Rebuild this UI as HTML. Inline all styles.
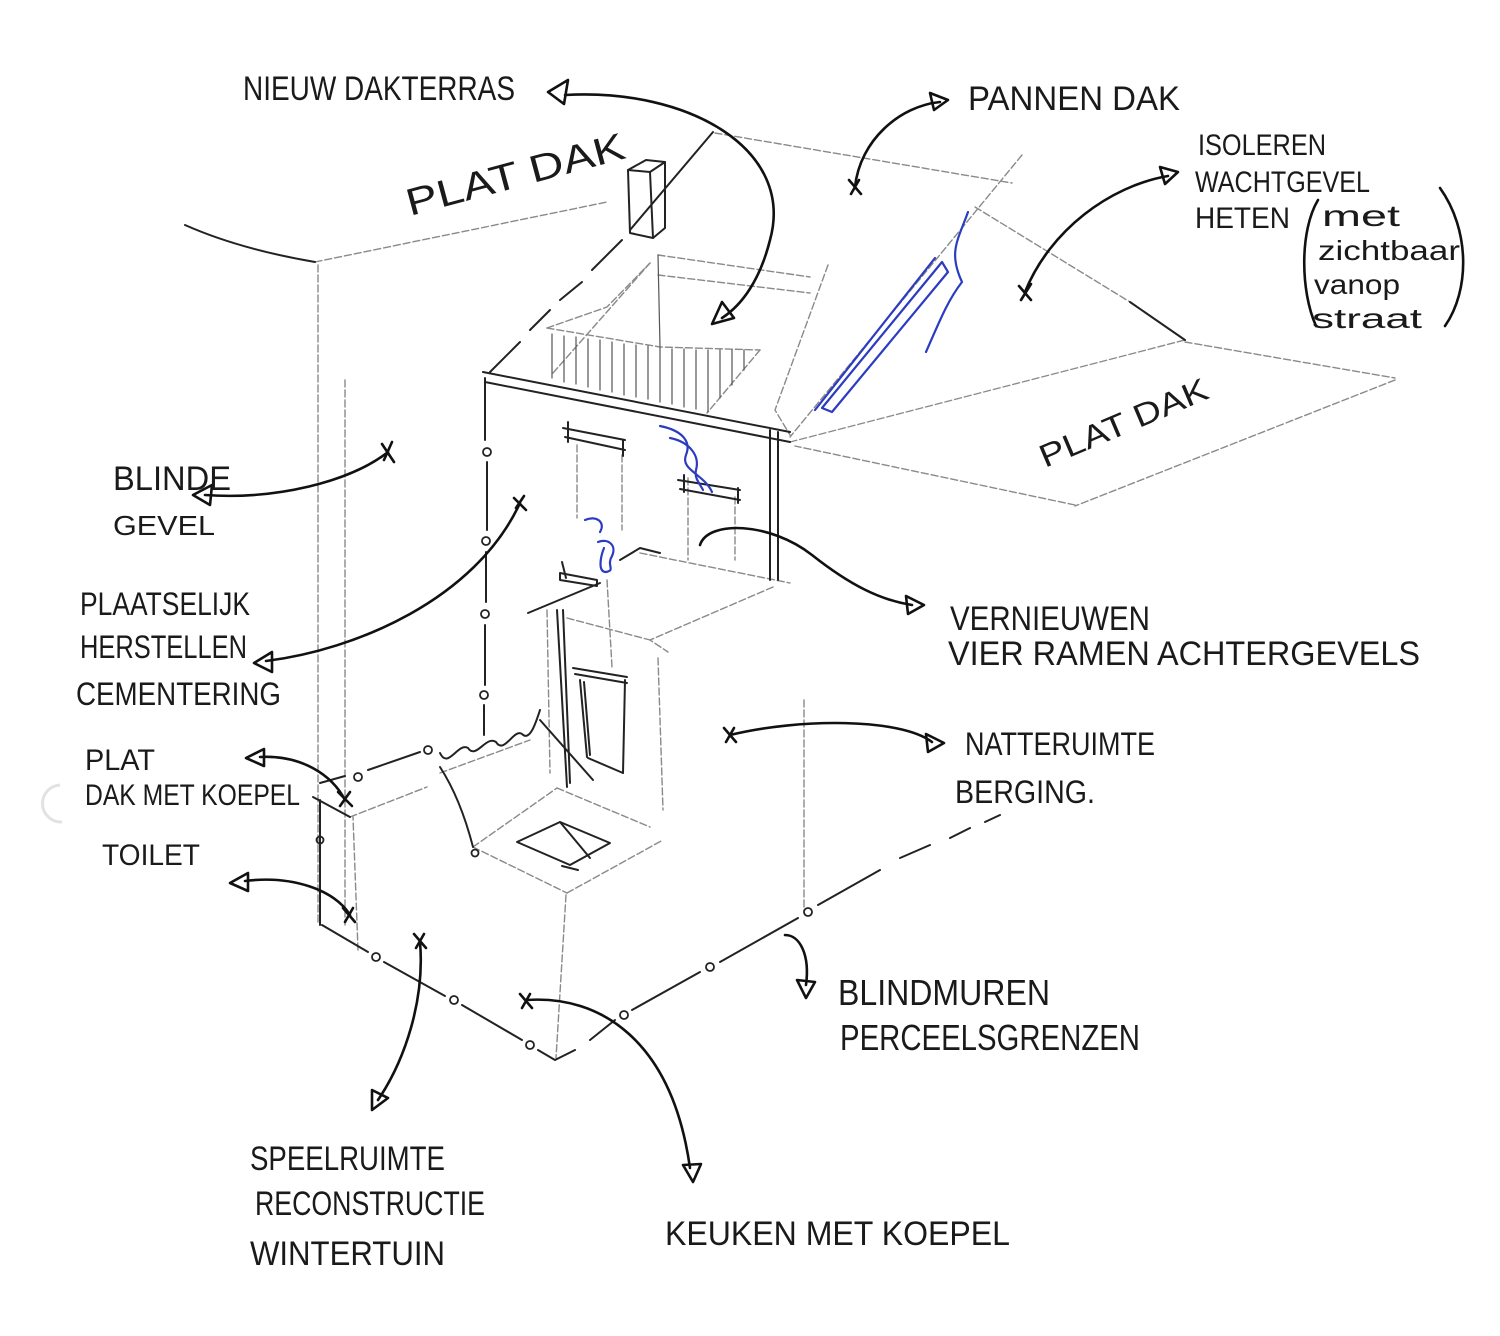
<!DOCTYPE html>
<html><head><meta charset="utf-8"><style>
html,body{margin:0;padding:0;background:#fff;}
svg{display:block;}
text{font-family:"Liberation Sans",sans-serif;fill:#1a1a1a;}
</style></head><body>
<svg width="1500" height="1336" viewBox="0 0 1500 1336" xmlns="http://www.w3.org/2000/svg">
<rect width="1500" height="1336" fill="#fff"/>
<!-- punch hole -->
<path d="M60,785 A18,18 0 1,0 62,822" fill="none" stroke="#e2e2e2" stroke-width="3"/>

<g fill="none" stroke-linecap="round" stroke-linejoin="round">
<!-- faint pencil construction -->
<g stroke="#8a8a8a" stroke-width="1.4" stroke-dasharray="7 3">
 <path d="M315,262 L607,202"/>
 <path d="M318,265 L318,925"/>
 <path d="M345,380 L345,925"/>
 <path d="M715,133 L1012,183"/>
 <path d="M1022,155 L790,437"/>
 <path d="M975,207 L1130,302"/>
 <path d="M790,442 L1185,340"/>
 <path d="M1185,342 L1395,378"/>
 <path d="M1395,380 L1075,506"/>
 <path d="M1075,505 L795,446"/>
 <path d="M658,255 L810,277"/>
 <path d="M658,275 L810,293"/>
 <path d="M828,265 L775,410 L790,435"/>
 <path d="M547,328 L607,307 L650,263"/>
 <path d="M553,373 L650,263"/>
 <path d="M577,445 L577,518"/>
 <path d="M622,455 L622,530"/>
 <path d="M688,478 L688,560"/>
 <path d="M735,497 L735,560"/>
 <path d="M640,553 L790,583"/>
 <path d="M773,587 L650,640 L668,652"/>
 <path d="M567,618 L650,640"/>
 <path d="M547,610 L550,773"/>
 <path d="M607,580 L612,667"/>
 <path d="M658,658 L663,810"/>
 <path d="M804,700 L804,912"/>
 <path d="M566,895 L556,1058"/>
 <path d="M440,773 L530,740"/>
 <path d="M473,847 L557,788"/>
 <path d="M557,788 L650,827"/>
 <path d="M473,847 L567,893"/>
 <path d="M567,893 L663,840"/>
 <path d="M350,817 L427,787"/>
 <path d="M358,950 L353,817"/>
 <path d="M547,328 L660,347 L760,350"/>
 <path d="M760,350 L707,413"/>
</g>

<!-- railing hatch -->
<g stroke="#555" stroke-width="1.2">
 <path d="M552,334 L552,378"/><path d="M564,336 L564,382"/><path d="M576,337 L576,384"/>
 <path d="M588,339 L588,387"/><path d="M600,340 L600,390"/><path d="M612,342 L612,392"/>
 <path d="M624,344 L624,395"/><path d="M636,345 L636,397"/><path d="M648,346 L648,399"/>
 <path d="M660,348 L660,402"/><path d="M672,349 L672,404"/><path d="M684,349 L684,407"/>
 <path d="M696,350 L696,409"/><path d="M708,350 L708,412"/><path d="M720,350 L720,398"/>
 <path d="M732,350 L732,385"/><path d="M744,350 L744,370"/>
 <path d="M658,255 L660,347"/>
</g>

<!-- firmer lines -->
<g stroke="#222" stroke-width="2">
 <path d="M185,225 C230,245 280,256 315,262"/>
 <path d="M713,132 L630,230"/>
 <path d="M622,240 L592,270 M582,282 L560,300 M550,310 L530,330 M520,342 L490,372" />
 <path d="M483,372 L790,432"/>
 <path d="M485,382 L790,442"/>
 <path d="M485,378 L485,440 M487,462 L487,530 M486,552 L486,602 M485,625 L485,685 M484,705 L484,735"/>
 <path d="M770,430 L770,580"/><path d="M778,432 L778,580"/>
 <path d="M1130,302 L1185,340"/>
 <!-- chimney -->
 <path d="M628,170 L630,233 L653,238 L665,228 L665,162"/>
 <path d="M628,170 L646,160 L665,162 L650,172 Z"/>
 <path d="M650,172 L653,238"/>
 <!-- upper windows -->
 <path d="M563,428 L625,440 M565,437 L625,450 M568,422 L568,442 M623,440 L623,456"/>
 <path d="M678,480 L740,490 M680,489 L740,500 M684,475 L684,492 M738,488 L738,503"/>
 <!-- ledge & middle block -->
 <path d="M528,613 L600,583"/>
 <path d="M560,573 L597,580 L597,586 L560,580 Z"/>
 <path d="M562,562 L566,578"/>
 <path d="M620,560 L640,548 L660,553"/>
 <path d="M557,610 L567,787"/><path d="M563,610 L570,783"/>
 <path d="M573,668 L627,677 M575,674 L627,683"/>
 <path d="M580,680 L587,757 M584,682 L590,755"/>
 <path d="M625,680 L623,773"/>
 <path d="M588,758 L623,773"/>
 <path d="M540,720 L593,780"/>
 <path d="M440,767 C455,790 466,820 473,847"/>
 <!-- skylight -->
 <path d="M517,842 L560,822 L610,843 L570,865 Z"/>
 <path d="M560,822 L590,858 M562,866 L578,870"/>
 <!-- lower-left block -->
 <path d="M320,800 L320,925"/>
 <path d="M313,797 L350,817"/>
 <path d="M320,783 L345,776 M368,770 L420,752"/>
 <path d="M440,753 C448,770 458,742 468,748 C476,760 486,735 496,742 C504,755 514,728 522,734 C530,742 536,722 540,710"/>
 <!-- bottom edges -->
 <path d="M322,925 L368,952 M384,962 L445,996 M462,1005 L522,1040 M538,1050 L555,1060 L575,1050"/>
 <path d="M590,1040 L615,1020 M632,1010 L700,972 M720,962 L798,918 M818,905 L880,870 M900,858 L930,845 M950,838 L970,828 M985,822 L1000,815"/>
</g>
<g stroke="#222" stroke-width="1.8">
 <circle cx="487" cy="452" r="4"/><circle cx="486" cy="541" r="4"/><circle cx="485" cy="614" r="4"/><circle cx="484" cy="695" r="4"/>
 <circle cx="358" cy="777" r="4"/><circle cx="428" cy="750" r="4"/>
 <circle cx="376" cy="957" r="4"/><circle cx="454" cy="1000" r="4"/><circle cx="530" cy="1045" r="4"/>
 <circle cx="624" cy="1015" r="4"/><circle cx="710" cy="967" r="4"/><circle cx="808" cy="912" r="4"/>
 <circle cx="320" cy="840" r="3.5"/><circle cx="475" cy="853" r="3.5"/>
</g>

<!-- blue pen -->
<g stroke="#2b3cc0" stroke-width="2.2">
 <path d="M968,212 C958,240 948,252 962,282 C948,300 940,320 926,352"/>
 <path d="M942,262 L822,408 L832,412 L948,272 L942,262"/>
 <path d="M935,258 L815,410"/>
 <path d="M660,426 C680,430 692,440 686,455 C680,470 704,474 712,492"/>
 <path d="M670,438 C690,442 700,456 696,470 C694,478 700,484 703,490"/>
 <path d="M598,542 C608,538 617,545 612,556 C606,566 616,570 606,572 C598,572 600,558 604,548"/>
 <path d="M585,520 C596,515 606,522 600,532"/>
</g>

<!-- arrows -->
<g stroke="#111" stroke-width="2.6">
 <path d="M565,95 C690,88 795,150 770,240 C760,280 742,305 722,318"/>
 <path d="M548,92 L568,80 L564,104 Z"/>
 <path d="M712,324 L722,302 L734,318 Z"/>
 <path d="M855,187 C860,140 900,106 940,102"/>
 <path d="M948,100 L930,93 L934,110 Z"/>
 <path d="M849,180 L861,194 M851,194 L859,180"/>
 <path d="M1025,292 C1050,230 1110,186 1168,176"/>
 <path d="M1178,172 L1160,167 L1165,184 Z"/>
 <path d="M1019,286 L1031,300 M1021,300 L1031,284"/>
 <path d="M205,495 C275,500 350,482 388,452"/>
 <path d="M193,495 L212,485 L210,505 Z"/>
 <path d="M382,444 L394,462 M384,460 L392,442"/>
 <path d="M266,661 C355,650 475,600 520,503"/>
 <path d="M254,663 L272,652 L272,672 Z"/>
 <path d="M514,498 L526,510 M516,508 L524,496"/>
 <path d="M260,757 C302,755 332,775 345,800"/>
 <path d="M246,758 L264,749 L264,766 Z"/>
 <path d="M338,792 L352,806 M340,806 L350,792"/>
 <path d="M245,881 C292,875 335,890 350,915"/>
 <path d="M230,883 L248,873 L248,891 Z"/>
 <path d="M343,908 L355,922 M345,922 L353,908"/>
 <path d="M700,545 C708,520 770,522 812,555 C850,585 880,600 912,605"/>
 <path d="M924,605 L906,596 L908,614 Z"/>
 <path d="M730,735 C800,718 900,718 932,742"/>
 <path d="M944,743 L926,734 L928,752 Z"/>
 <path d="M724,728 L736,742 M726,742 L734,728"/>
 <path d="M785,935 C800,935 810,955 806,985"/>
 <path d="M806,998 L797,980 L815,982 Z"/>
 <path d="M420,942 C425,1000 405,1060 378,1100"/>
 <path d="M372,1110 L372,1090 L388,1098 Z"/>
 <path d="M414,934 L426,948 M416,948 L424,934"/>
 <path d="M527,1000 C600,995 672,1040 690,1168"/>
 <path d="M693,1182 L683,1165 L701,1164 Z"/>
 <path d="M520,994 L532,1008 M522,1008 L530,994"/>
 <path d="M1318,200 C1300,230 1300,290 1316,326"/>
 <path d="M1440,188 C1470,230 1470,290 1445,326"/>
</g>
</g>

<!-- labels -->
<g font-size="34">
 <text x="243" y="100" textLength="272" lengthAdjust="spacingAndGlyphs">NIEUW DAKTERRAS</text>
 <text x="968" y="110" textLength="212" lengthAdjust="spacingAndGlyphs">PANNEN DAK</text>
 <text x="1198" y="155" font-size="30" textLength="128" lengthAdjust="spacingAndGlyphs">ISOLEREN</text>
 <text x="1195" y="192" font-size="30" textLength="175" lengthAdjust="spacingAndGlyphs">WACHTGEVEL</text>
 <text x="1195" y="228" font-size="30" textLength="95" lengthAdjust="spacingAndGlyphs">HETEN</text>
 <text x="1322" y="226" font-size="30" textLength="78" lengthAdjust="spacingAndGlyphs">met</text>
 <text x="1318" y="260" font-size="28" textLength="142" lengthAdjust="spacingAndGlyphs">zichtbaar</text>
 <text x="1314" y="294" font-size="28" textLength="86" lengthAdjust="spacingAndGlyphs">vanop</text>
 <text x="1312" y="328" font-size="28" textLength="110" lengthAdjust="spacingAndGlyphs">straat</text>
 <text x="410" y="216" font-size="38" textLength="225" lengthAdjust="spacingAndGlyphs" transform="rotate(-15 410 216)">PLAT DAK</text>
 <text x="1045" y="468" font-size="32" textLength="180" lengthAdjust="spacingAndGlyphs" transform="rotate(-23 1045 468)">PLAT DAK</text>
 <text x="113" y="490" textLength="118" lengthAdjust="spacingAndGlyphs">BLINDE</text>
 <text x="113" y="535" font-size="28" textLength="102" lengthAdjust="spacingAndGlyphs">GEVEL</text>
 <text x="80" y="615" font-size="32" textLength="170" lengthAdjust="spacingAndGlyphs">PLAATSELIJK</text>
 <text x="80" y="658" font-size="32" textLength="167" lengthAdjust="spacingAndGlyphs">HERSTELLEN</text>
 <text x="76" y="705" font-size="32" textLength="205" lengthAdjust="spacingAndGlyphs">CEMENTERING</text>
 <text x="85" y="770" font-size="30" textLength="70" lengthAdjust="spacingAndGlyphs">PLAT</text>
 <text x="85" y="805" font-size="30" textLength="215" lengthAdjust="spacingAndGlyphs">DAK MET KOEPEL</text>
 <text x="102" y="865" font-size="30" textLength="98" lengthAdjust="spacingAndGlyphs">TOILET</text>
 <text x="950" y="630" textLength="200" lengthAdjust="spacingAndGlyphs">VERNIEUWEN</text>
 <text x="948" y="665" textLength="472" lengthAdjust="spacingAndGlyphs">VIER RAMEN ACHTERGEVELS</text>
 <text x="965" y="755" font-size="32" textLength="190" lengthAdjust="spacingAndGlyphs">NATTERUIMTE</text>
 <text x="955" y="803" font-size="32" textLength="140" lengthAdjust="spacingAndGlyphs">BERGING.</text>
 <text x="838" y="1005" font-size="36" textLength="212" lengthAdjust="spacingAndGlyphs">BLINDMUREN</text>
 <text x="840" y="1050" font-size="36" textLength="300" lengthAdjust="spacingAndGlyphs">PERCEELSGRENZEN</text>
 <text x="250" y="1170" textLength="195" lengthAdjust="spacingAndGlyphs">SPEELRUIMTE</text>
 <text x="255" y="1215" textLength="230" lengthAdjust="spacingAndGlyphs">RECONSTRUCTIE</text>
 <text x="250" y="1265" textLength="195" lengthAdjust="spacingAndGlyphs">WINTERTUIN</text>
 <text x="665" y="1245" textLength="345" lengthAdjust="spacingAndGlyphs">KEUKEN MET KOEPEL</text>
</g>
</svg>
</body></html>
